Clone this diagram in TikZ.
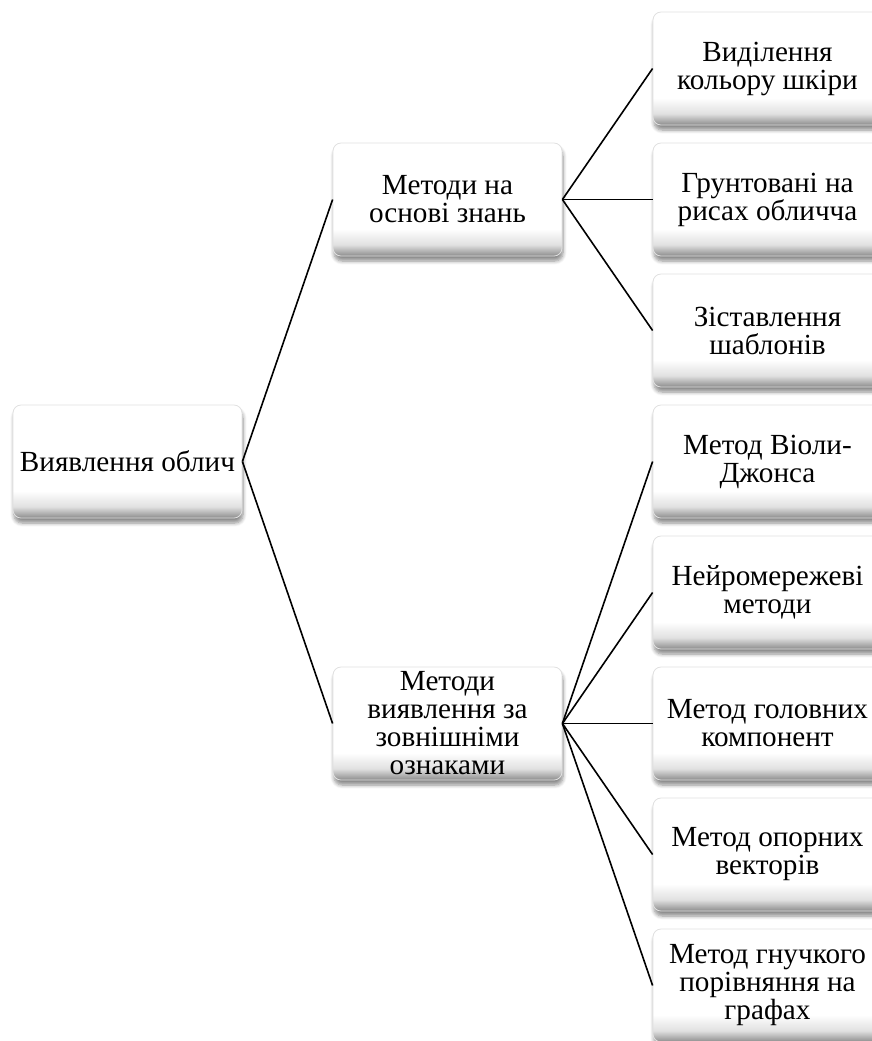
\documentclass[tikz,border=0pt]{standalone}
\usepackage{fontspec}
\setmainfont{Liberation Serif}
\usetikzlibrary{shadows.blur}
\pgfdeclareverticalshading{blokshade}{100bp}{color(0bp)=(black!45); color(25bp)=(black!45); color(30bp)=(black!12); color(37bp)=(white); color(100bp)=(white)}

\begin{document}
\begin{tikzpicture}[x=0.5pt,y=-0.5pt,
    blok/.style={rectangle, rounded corners=4pt, draw=black!12, shading=blokshade,
        blur shadow={shadow xshift=0.5pt, shadow yshift=-2.5pt, shadow blur steps=6, shadow opacity=45},
        minimum width=114.5pt, minimum height=56.5pt, inner sep=0pt, align=center,
        font=\fontsize{14.6}{14}\selectfont},
    spoj/.style={line width=0.8pt}]
            \clip (0,0) rectangle (872,1041);

            %koren
            \node[blok] (vyjav) at (127.5,461.5) {Виявлення облич};

            %druhy riadok
            \node[blok] (znan) at (447.5,199.5) {Методи на\\основі знань};
            \node[blok] (oznak) at (447.5,723.5) {Методи\\виявлення за\\зовнішніми\\ознаками};

            %metody na zaklade znalosti
            \node[blok] (shkira) at (767.5,68.5) {Виділення\\кольору шкіри};
            \node[blok] (rysy) at (767.5,199.5) {Грунтовані на\\рисах обличча};
            \node[blok] (shabl) at (767.5,330.5) {Зіставлення\\шаблонів};

            %metody podla vonkajsich znakov
            \node[blok] (viola) at (767.5,461.5) {Метод Віоли-\\Джонса};
            \node[blok] (nejro) at (767.5,592.5) {Нейромережеві\\методи};
            \node[blok] (holov) at (767.5,723.5) {Метод головних\\компонент};
            \node[blok] (opor) at (767.5,854.5) {Метод опорних\\векторів};
            \node[blok] (hnuch) at (767.5,985.5) {Метод гнучкого\\порівняння на\\графах};

            %ciary
            \draw[spoj] (vyjav.east) -- (znan.west);
            \draw[spoj] (vyjav.east) -- (oznak.west);
            \draw[spoj] (znan.east) -- (shkira.west);
            \draw[spoj] (znan.east) -- (rysy.west);
            \draw[spoj] (znan.east) -- (shabl.west);
            \draw[spoj] (oznak.east) -- (viola.west);
            \draw[spoj] (oznak.east) -- (nejro.west);
            \draw[spoj] (oznak.east) -- (holov.west);
            \draw[spoj] (oznak.east) -- (opor.west);
            \draw[spoj] (oznak.east) -- (hnuch.west);
        \end{tikzpicture}
\end{document}
